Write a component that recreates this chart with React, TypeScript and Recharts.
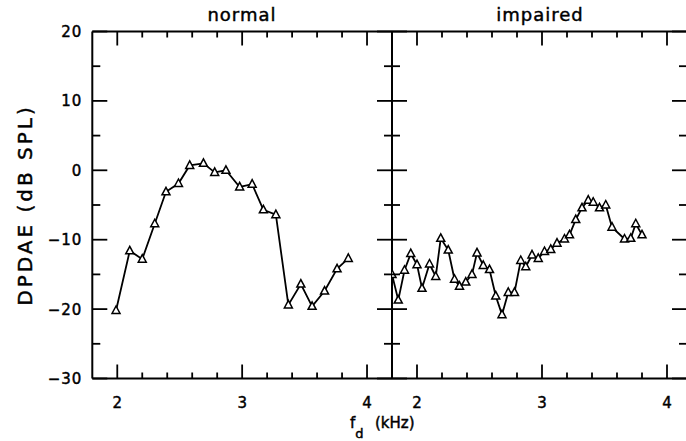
import React from 'react';
import { LineChart, Line, XAxis, YAxis } from 'recharts';

// ---- data ----
const normalFreq = [1.99, 2.10, 2.20, 2.30, 2.39, 2.49, 2.58, 2.69, 2.78, 2.87, 2.98, 3.08, 3.17, 3.27, 3.37, 3.47, 3.56, 3.66, 3.76, 3.85];
const normalLevel = [-20.2, -11.6, -12.8, -7.7, -3.1, -1.9, 0.7, 1.0, -0.3, 0.0, -2.4, -2.0, -5.7, -6.4, -19.4, -16.4, -19.6, -17.4, -14.2, -12.7];

const impairedFreq = [1.80, 1.85, 1.90, 1.95, 2.00, 2.04, 2.10, 2.15, 2.19, 2.25, 2.30, 2.34, 2.39, 2.44, 2.48, 2.53, 2.58, 2.63, 2.68, 2.73, 2.78, 2.83, 2.87, 2.92, 2.97, 3.02, 3.07, 3.12, 3.18, 3.22, 3.27, 3.32, 3.37, 3.41, 3.46, 3.51, 3.56, 3.66, 3.71, 3.75, 3.80];
const impairedLevel = [-15.0, -18.7, -14.4, -12.0, -13.6, -17.0, -13.5, -15.3, -9.8, -11.5, -15.7, -16.7, -16.1, -15.0, -11.9, -13.7, -14.3, -18.1, -20.8, -17.6, -17.6, -13.0, -13.9, -12.2, -12.7, -11.7, -11.4, -10.5, -9.9, -9.3, -7.1, -5.4, -4.3, -4.6, -5.4, -5.0, -8.2, -9.9, -9.8, -7.7, -9.3];

const xTicks = [2, 2.2, 2.4, 2.6, 2.8, 3, 3.2, 3.4, 3.6, 3.8, 4];
const yTicks = [-30, -25, -20, -15, -10, -5, 0, 5, 10, 15, 20];
const panelTitles = ['normal', 'impaired'];
const yLabel = 'DPDAE (dB SPL)';

const normalData = normalFreq.map((x, i) => ({ x, y: normalLevel[i] }));
const impairedData = impairedFreq.map((x, i) => ({ x, y: impairedLevel[i] }));

const FONT = '"DejaVu Sans", sans-serif';
const SW = 1.8;
const TXT = { fontFamily: FONT, fill: '#000', stroke: '#000', strokeWidth: 0.45 };

const isMult = (v: number, step: number) => Math.abs(v / step - Math.round(v / step)) < 1e-6;
const fmt = (v: number) => String(v).replace('-', '\u2212');

const BottomTick = (p: any) => {
  const { x, y, payload } = p;
  const major = isMult(payload.value, 1);
  return (
    <g>
      <line x1={x} x2={x} y1={y} y2={y - (major ? 14 : 6)} stroke="#000" strokeWidth={SW} />
      {major && (
        <text x={x} y={y + 29.5} textAnchor="middle" fontSize={15} {...TXT}>
          {fmt(payload.value)}
        </text>
      )}
    </g>
  );
};

const TopTick = (p: any) => {
  const { x, y, payload } = p;
  const major = isMult(payload.value, 1);
  return <line x1={x} x2={x} y1={y} y2={y + (major ? 14 : 6)} stroke="#000" strokeWidth={SW} />;
};

const makeLeftTick = (withLabels: boolean) => (p: any) => {
  const { x, y, payload } = p;
  const major = isMult(payload.value, 10);
  return (
    <g>
      <line x1={x} x2={x + (major ? 15 : 8)} y1={y} y2={y} stroke="#000" strokeWidth={SW} />
      {withLabels && major && (
        <text x={x - 10} y={y + 5.5} textAnchor="end" fontSize={15} letterSpacing={1} {...TXT}>
          {fmt(payload.value)}
        </text>
      )}
    </g>
  );
};

const RightTick = (p: any) => {
  const { x, y, payload } = p;
  const major = isMult(payload.value, 10);
  return <line x1={x} x2={x - (major ? 15 : 8)} y1={y} y2={y} stroke="#000" strokeWidth={SW} />;
};

const TriangleDot = (p: any) => {
  const { cx, cy, index } = p;
  if (cx == null || cy == null) return <g key={index} />;
  return (
    <polygon
      key={index}
      points={`${cx},${cy - 4.5} ${cx - 4},${cy + 3} ${cx + 4},${cy + 3}`}
      fill="#fff"
      stroke="#000"
      strokeWidth={1.5}
    />
  );
};

const axisLine = { stroke: '#000', strokeWidth: 2 };

function Panel(props: { data: any[]; domain: [number, number]; margin: any; width: number; labels: boolean }) {
  const { data, domain, margin, width, labels } = props;
  return (
    <LineChart width={width} height={441} data={data} margin={margin}>
      <XAxis xAxisId="b" dataKey="x" type="number" domain={domain} allowDataOverflow ticks={xTicks} interval={0}
        orientation="bottom" height={1} tickSize={0} tickMargin={0} tickLine={false} axisLine={axisLine} tick={BottomTick} />
      <XAxis xAxisId="t" dataKey="x" type="number" domain={domain} allowDataOverflow ticks={xTicks} interval={0}
        orientation="top" height={1} tickSize={0} tickMargin={0} tickLine={false} axisLine={axisLine} tick={TopTick} />
      <YAxis yAxisId="l" type="number" domain={[-30, 20]} allowDataOverflow ticks={yTicks} interval={0}
        orientation="left" width={1} tickSize={0} tickMargin={0} tickLine={false} axisLine={axisLine} tick={makeLeftTick(labels)} />
      <YAxis yAxisId="r" type="number" domain={[-30, 20]} allowDataOverflow ticks={yTicks} interval={0}
        orientation="right" width={1} tickSize={0} tickMargin={0} tickLine={false} axisLine={axisLine} tick={RightTick} />
      <Line xAxisId="t" yAxisId="r" dataKey="y" stroke="none" dot={false} isAnimationActive={false} legendType="none" />
      <Line xAxisId="b" yAxisId="l" dataKey="y" stroke="#000" strokeWidth={SW} dot={TriangleDot} activeDot={false}
        isAnimationActive={false} />
    </LineChart>
  );
}

export default function App() {
  return (
    <div style={{ position: 'fixed', left: 0, top: 0, width: 686, height: 441, overflow: 'hidden', background: '#fff' }}>
      <div style={{ position: 'absolute', left: 0, top: 0 }}>
        <Panel data={normalData} domain={[1.8, 4.2]} width={686} labels
          margin={{ top: 30.5, bottom: 61.5, left: 91.3, right: 293 }} />
      </div>
      <div style={{ position: 'absolute', left: 0, top: 0 }}>
        <Panel data={impairedData} domain={[1.8, 4.16]} width={690} labels={false}
          margin={{ top: 30.5, bottom: 61.5, left: 391, right: 2 }} />
      </div>
      <svg width={686} height={441} style={{ position: 'absolute', left: 0, top: 0, pointerEvents: 'none' }}>
        <text x={242} y={21} textAnchor="middle" fontSize={18} letterSpacing={1} {...TXT}>{panelTitles[0]}</text>
        <text x={540} y={21} textAnchor="middle" fontSize={18} letterSpacing={1} {...TXT}>{panelTitles[1]}</text>
        <text transform="translate(32,205) rotate(-90)" textAnchor="middle" fontSize={20} letterSpacing={3} {...TXT}>{yLabel}</text>
        <text x={350} y={428} fontSize={15} {...TXT}>
          <tspan>f</tspan>
          <tspan fontSize={13} dy={10}>d</tspan>
          <tspan x={375} dy={-10}>(kHz)</tspan>
        </text>
      </svg>
    </div>
  );
}
